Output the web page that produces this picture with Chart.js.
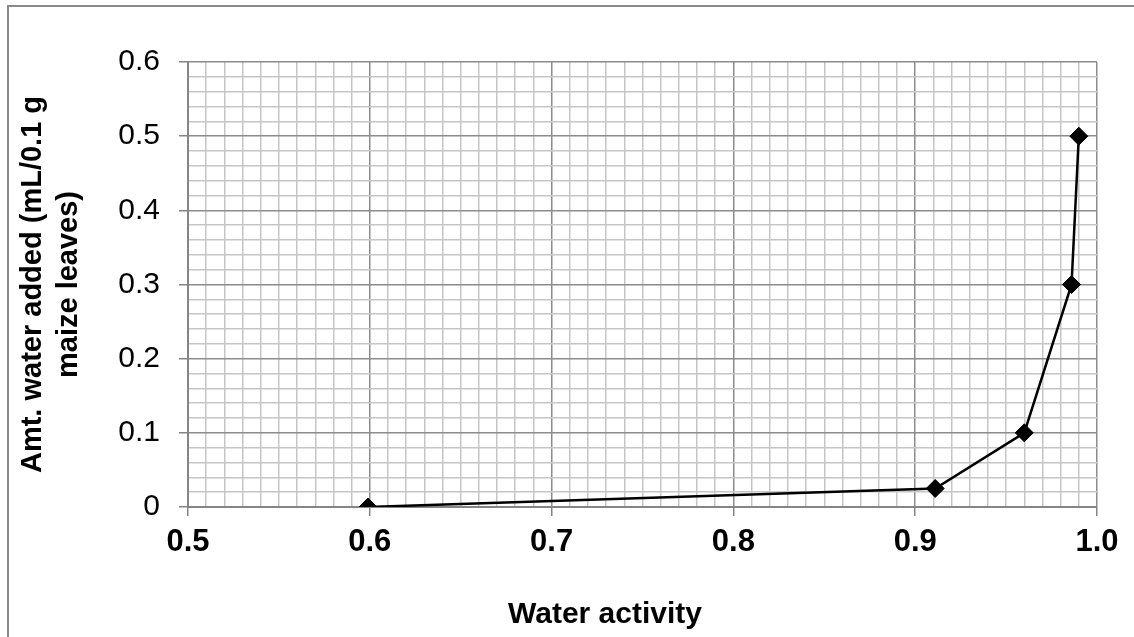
<!DOCTYPE html>
<html>
<head>
<meta charset="utf-8">
<script src="https://cdn.jsdelivr.net/npm/chart.js@4/dist/chart.umd.min.js"></script>
<style>
    body { margin: 0; background: #fff; }
    #wrap { position: relative; width: 1134px; height: 637px; overflow: hidden; }
    #frame {
        position: absolute; left: 7px; top: 5px; width: 1200px; height: 700px;
        border-left: 2px solid #8a8a8a; border-top: 2px solid #8a8a8a;
        pointer-events: none;
    }
</style>
</head>
<body>
<div id="wrap">
    <canvas id="aw-chart" width="1134" height="637"></canvas>
    <div id="frame"></div>
</div>
<script>
// water activity vs. amount of water added
var waterActivity = [0.599, 0.911, 0.96, 0.986, 0.99];
var waterAdded = [0, 0.025, 0.1, 0.3, 0.5];

var xTitle = 'Water activity';
var yTitle = ['Amt. water added (mL/0.1 g', 'maize leaves)'];

var xRange = [0.5, 1.0];
var yRange = [0, 0.6];

var FONT = '"Liberation Sans", Arial, sans-serif';
var majorGrid = '#8c8c8c';
var minorGrid = '#c6c6c6';

var isMajor = function (v) {
    return Math.abs(v * 10 - Math.round(v * 10)) < 1e-6;
}

var points = waterActivity.map(function (x, i) {
    return { x: x, y: waterAdded[i] };
});

var awChart = new Chart(document.getElementById('aw-chart'), {
    type: 'scatter',
    data: {
        datasets: [{
            data: points,
            showLine: true,
            borderColor: '#000',
            borderWidth: 2.5,
            backgroundColor: '#000',
            pointStyle: 'rectRot',
            pointRadius: 9,
            pointBorderWidth: 1,
            pointBorderColor: '#000'
        }]
    },
    options: {
        responsive: false,
        animation: false,
        devicePixelRatio: 1,
        layout: { padding: { top: 62, right: 37, left: 0, bottom: 0 } },
        plugins: { legend: { display: false }, tooltip: { enabled: false } },
        scales: {
            x: {
                type: 'linear',
                min: xRange[0],
                max: xRange[1],
                afterFit: function (scale) { scale.height = 130; },
                border: { color: '#858585', width: 2 },
                grid: {
                    color: function (ctx) { return isMajor(ctx.tick.value) ? majorGrid : minorGrid; },
                    tickColor: function (ctx) { return isMajor(ctx.tick.value) ? '#858585' : 'rgba(0,0,0,0)'; },
                    lineWidth: 1.5,
                    tickLength: 9
                },
                ticks: {
                    stepSize: 0.01,
                    autoSkip: false,
                    maxRotation: 0,
                    padding: 8,
                    color: '#000',
                    font: { family: FONT, size: 31, weight: 'bold' },
                    callback: function (v) { return isMajor(v) ? v.toFixed(1) : ''; }
                },
                title: {
                    display: true,
                    // trailing blanks pull the centred title a little left of the plot centre
                    text: xTitle + '\u00a0'.repeat(9),
                    color: '#000',
                    padding: { top: 0, bottom: 4 },
                    font: { family: FONT, size: 30, weight: 'bold' }
                }
            },
            y: {
                min: yRange[0],
                max: yRange[1],
                afterFit: function (scale) { scale.width = 188; },
                border: { color: '#858585', width: 2 },
                grid: {
                    color: function (ctx) { return isMajor(ctx.tick.value) ? majorGrid : minorGrid; },
                    tickColor: function (ctx) { return isMajor(ctx.tick.value) ? '#858585' : 'rgba(0,0,0,0)'; },
                    lineWidth: 1.5,
                    tickLength: 9
                },
                ticks: {
                    stepSize: 0.02,
                    autoSkip: false,
                    padding: 19,
                    color: '#000',
                    font: { family: FONT, size: 30 },
                    callback: function (v) {
                        if (!isMajor(v)) return '';
                        return v === 0 ? '0' : v.toFixed(1);
                    }
                },
                title: {
                    display: true,
                    text: yTitle,
                    color: '#000',
                    padding: { top: 15, bottom: 0 },
                    font: { family: FONT, size: 29, weight: 'bold', lineHeight: 1.24 }
                }
            }
        }
    }
});
</script>
</body>
</html>
